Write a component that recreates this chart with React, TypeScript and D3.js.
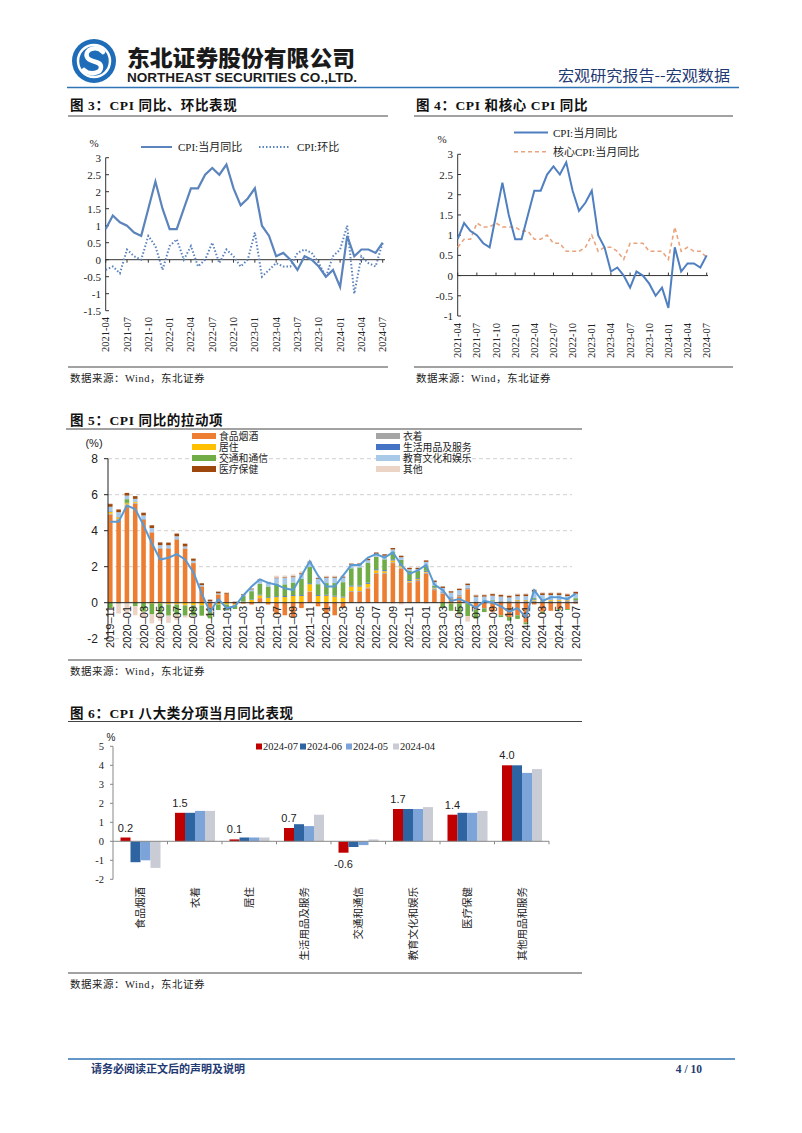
import React from 'react';
import * as d3 from 'd3';

// ---------- helpers for category labels ----------
function monthRange(y: number, m: number, n: number): string[] {
  const out: string[] = [];
  for (let i = 0; i < n; i++) {
    const mm = m - 1 + i;
    const yy = y + Math.floor(mm / 12);
    const mo = (mm % 12) + 1;
    out.push(`${yy}-${mo < 10 ? '0' + mo : mo}`);
  }
  return out;
}

// ---------- data: chart 3 & 4 (2021-04 .. 2024-07) ----------
const cpiMonths = monthRange(2021, 4, 40);
const cpiYoY = [0.9, 1.3, 1.1, 1.0, 0.8, 0.7, 1.5, 2.3, 1.5,
  0.9, 0.9, 1.5, 2.1, 2.1, 2.5, 2.7, 2.5, 2.8, 2.1, 1.6, 1.8,
  2.1, 1.0, 0.7, 0.1, 0.2, 0.0, -0.3, 0.1, 0.0, -0.2, -0.5, -0.3,
  -0.8, 0.7, 0.1, 0.3, 0.3, 0.2, 0.5];
const cpiMoM = [-0.3, -0.2, -0.4, 0.3, 0.1, 0.0, 0.7, 0.4, -0.3,
  0.4, 0.6, 0.0, 0.4, -0.2, 0.0, 0.5, -0.1, 0.3, 0.1, -0.2, 0.0,
  0.8, -0.5, -0.3, -0.1, -0.2, -0.2, 0.2, 0.3, 0.2, -0.1, -0.5, 0.1,
  0.3, 1.0, -1.0, 0.1, -0.1, -0.2, 0.5];
const coreYoY = [0.7, 0.9, 0.9, 1.3, 1.2, 1.2, 1.3, 1.2, 1.2,
  1.2, 1.1, 1.1, 0.9, 0.9, 1.0, 0.8, 0.8, 0.6, 0.6, 0.6, 0.7,
  1.0, 0.6, 0.7, 0.7, 0.6, 0.4, 0.8, 0.8, 0.8, 0.6, 0.6, 0.6,
  0.4, 1.2, 0.6, 0.7, 0.6, 0.6, 0.45];
const ticks3 = [3, 2.5, 2, 1.5, 1, 0.5, 0, -0.5, -1, -1.5];
const ticks4 = [3, 2.5, 2, 1.5, 1, 0.5, 0, -0.5, -1];

// ---------- data: chart 5 (2019-11 .. 2024-07) ----------
const pullMonths = monthRange(2019, 11, 57);
const pullTotal = [4.5, 4.5,
  5.4, 5.2, 4.3, 3.3, 2.4, 2.5, 2.7, 2.4, 1.7, 0.5, -0.5, 0.2,
  -0.3, -0.2, 0.4, 0.9, 1.3, 1.1, 1.0, 0.8, 0.7, 1.5, 2.3, 1.5,
  0.9, 0.9, 1.5, 2.1, 2.1, 2.5, 2.7, 2.5, 2.8, 2.1, 1.6, 1.8,
  2.1, 1.0, 0.7, 0.1, 0.2, 0.0, -0.3, 0.1, 0.0, -0.2, -0.5, -0.3,
  -0.8, 0.7, 0.1, 0.3, 0.3, 0.2, 0.5];
const pullFood = [4.9, 4.6, 5.4, 5.5, 4.6, 3.9, 3.0, 3.0, 3.5, 3.0, 2.2, 0.9, -0.3, 0.45,
  0.5, -0.1, -0.05, -0.1, 0.25, -0.1, -0.65, -0.7, -0.8, -0.3, 0.6, -0.2,
  -0.6, -0.7, -0.3, 0.6, 0.6, 0.8, 1.6, 1.6, 2.2, 1.9, 1.1, 1.2,
  1.6, 0.7, 0.5, 0.2, 0.35, 0.75, -0.35, -0.3, -0.5, -0.7, -0.8, -0.7,
  -1.1, -0.1, -0.5, -0.45, -0.35, -0.35, -0.05];
const pullClothing = [0.05, 0.05, 0.05, 0.05, 0.05, 0.05, 0.05, 0.04, 0.04, 0.03, 0.03, 0.03, 0.02, 0.02,
  0.0, 0.0, 0.0, 0.01, 0.01, 0.01, 0.01, 0.02, 0.02, 0.03, 0.03, 0.03,
  0.04, 0.04, 0.04, 0.05, 0.05, 0.05, 0.05, 0.05, 0.05, 0.05, 0.06, 0.06,
  0.07, 0.08, 0.08, 0.08, 0.08, 0.08, 0.08, 0.09, 0.09, 0.09, 0.09, 0.09,
  0.09, 0.12, 0.1, 0.1, 0.1, 0.1, 0.1];
const pullHousing = [0.1, 0.1, 0.08, 0.05, 0.0, -0.05, -0.05, -0.1, -0.1, -0.15, -0.15, -0.15, -0.15, -0.1,
  -0.1, -0.05, 0.05, 0.15, 0.15, 0.25, 0.3, 0.3, 0.35, 0.35, 0.4, 0.35,
  0.35, 0.3, 0.25, 0.25, 0.25, 0.2, 0.15, 0.1, 0.1, 0.08, 0.05, 0.05,
  0.05, 0.03, 0.0, -0.05, -0.05, -0.05, -0.02, 0.0, 0.0, 0.0, 0.0, 0.05,
  0.05, 0.05, 0.05, 0.05, 0.05, 0.04, 0.02];
const pullHousehold = [0.03, 0.03, 0.02, 0.02, 0.0, 0.0, 0.0, -0.02, -0.02, -0.02, -0.02, -0.02, -0.02, -0.01,
  0.0, 0.01, 0.02, 0.03, 0.04, 0.04, 0.05, 0.05, 0.05, 0.05, 0.05, 0.05,
  0.05, 0.05, 0.05, 0.06, 0.06, 0.06, 0.06, 0.06, 0.06, 0.05, 0.05, 0.05,
  0.05, 0.04, 0.04, 0.03, 0.02, 0.0, -0.02, -0.02, 0.0, 0.0, 0.0, 0.02,
  0.03, 0.04, 0.03, 0.03, 0.03, 0.03, 0.03];
const pullTransport = [-0.3, -0.05, 0.2, -0.2, -0.5, -0.6, -0.6, -0.6, -0.55, -0.55, -0.55, -0.55, -0.4, -0.3,
  -0.3, -0.2, 0.3, 0.45, 0.6, 0.6, 0.7, 0.65, 0.7, 0.9, 0.9, 0.6,
  0.65, 0.7, 0.8, 0.95, 1.0, 1.1, 0.7, 0.6, 0.4, 0.3, 0.5, 0.4,
  0.3, 0.1, -0.3, -0.4, -0.6, -0.7, -0.5, -0.2, 0.05, -0.1, -0.2, -0.2,
  -0.1, 0.05, -0.1, 0.0, -0.05, -0.05, 0.1];
const pullEducation = [0.25, 0.25, 0.2, 0.15, 0.2, 0.2, 0.15, 0.15, 0.15, 0.1, 0.1, 0.05, 0.05, 0.05,
  -0.05, 0.0, 0.05, 0.1, 0.2, 0.2, 0.3, 0.35, 0.3, 0.25, 0.25, 0.3,
  0.3, 0.3, 0.25, 0.2, 0.15, 0.15, 0.15, 0.2, 0.15, 0.15, 0.1, 0.1,
  0.2, 0.2, 0.2, 0.25, 0.25, 0.15, 0.25, 0.25, 0.25, 0.25, 0.2, 0.2,
  0.2, 0.35, 0.25, 0.25, 0.25, 0.2, 0.25];
const pullMedical = [0.15, 0.15, 0.15, 0.15, 0.15, 0.15, 0.15, 0.15, 0.15, 0.15, 0.12, 0.1, 0.1, 0.1,
  0.05, 0.05, 0.05, 0.05, 0.05, 0.04, 0.04, 0.04, 0.05, 0.06, 0.05, 0.05,
  0.06, 0.06, 0.07, 0.07, 0.08, 0.08, 0.08, 0.08, 0.08, 0.08, 0.08, 0.08,
  0.08, 0.08, 0.08, 0.08, 0.08, 0.08, 0.08, 0.08, 0.09, 0.09, 0.1, 0.1,
  0.1, 0.1, 0.1, 0.1, 0.1, 0.1, 0.1];
const pullOther = [0.05, -0.55, -0.6, -0.5, -0.3, -0.5, -0.35, -0.4, -0.3, -0.1, -0.05, 0.0, 0.0, 0.02,
  0.02, 0.02, 0.02, 0.02, 0.03, 0.03, 0.1, 0.1, 0.1, 0.1, 0.05, 0.05,
  0.05, 0.05, 0.05, 0.02, 0.02, 0.0, 0.0, 0.0, -0.05, -0.1, 0.0, 0.0,
  -0.05, 0.0, 0.0, 0.02, -0.1, -0.3, 0.05, 0.05, 0.05, 0.05, 0.05, 0.05,
  0.05, 0.05, 0.05, 0.05, 0.05, 0.05, 0.05];
const pullNames = ['食品烟酒', '衣着', '居住', '生活用品及服务', '交通和通信', '教育文化和娱乐', '医疗保健', '其他'];
const pullColors = ['#ED7D31', '#A5A5A5', '#FFC000', '#4472C4', '#70AD47', '#A9C9E8', '#9E480E', '#EBD3C6'];
const pullSeries = [pullFood, pullClothing, pullHousing, pullHousehold, pullTransport, pullEducation, pullMedical, pullOther];
const ticks5 = [8, 6, 4, 2, 0, -2];

// ---------- data: chart 6 ----------
const catNames = ['食品烟酒', '衣着', '居住', '生活用品及服务', '交通和通信', '教育文化和娱乐', '医疗保健', '其他用品和服务'];
const seriesNames6 = ['2024-07', '2024-06', '2024-05', '2024-04'];
const v202407 = [0.2, 1.5, 0.1, 0.7, -0.6, 1.7, 1.4, 4.0];
const v202406 = [-1.1, 1.5, 0.2, 0.9, -0.3, 1.7, 1.5, 4.0];
const v202405 = [-1.0, 1.6, 0.2, 0.8, -0.2, 1.7, 1.5, 3.6];
const v202404 = [-1.4, 1.6, 0.2, 1.4, 0.1, 1.8, 1.6, 3.8];
const colors6 = ['#C00000', '#2E64A2', '#7DA4D8', '#C9CCD5'];
const ticks6 = [5, 4, 3, 2, 1, 0, -1, -2];

const SERIF = "'Liberation Serif','Times New Roman','Noto Sans CJK SC',serif";
const SANS = "'Liberation Sans',Arial,'Noto Sans CJK SC',sans-serif";
const CJK = "'Noto Sans CJK SC',sans-serif";

function Chart3() {
  const x = d3.scaleLinear().domain([0, cpiMonths.length - 1]).range([105.7, 382.7]);
  const y = d3.scaleLinear().domain([-1.5, 3]).range([310.7, 157.7]);
  const line = d3.line<number>().x((_, i) => x(i)).y(d => y(d));
  const col = '#5B84BC';
  return (
    <g>
      <text x={70} y={110} fontFamily={SERIF} fontSize={13.5} fontWeight={700} fill="#111" letterSpacing={0.6}>图 3：CPI 同比、环比表现</text>
      <line x1={68} x2={388} y1={116} y2={116} stroke="#444" strokeWidth={1} />
      <text x={94} y={147} fontFamily={SERIF} fontSize={11} textAnchor="middle" fill="#222">%</text>
      <line x1={141} x2={172} y1={147} y2={147} stroke={col} strokeWidth={2} />
      <text x={178} y={151} fontFamily={SERIF} fontSize={11} fill="#222">CPI:当月同比</text>
      <line x1={259} x2={290} y1={147} y2={147} stroke={col} strokeWidth={2} strokeDasharray="1.5 2" />
      <text x={297} y={151} fontFamily={SERIF} fontSize={11} fill="#222">CPI:环比</text>
      <line x1={105.7} x2={105.7} y1={157.7} y2={310.7} stroke="#333" />
      {ticks3.map(t => (
        <g key={t}>
          <line x1={105.7} x2={109} y1={y(t)} y2={y(t)} stroke="#333" />
          <text x={101} y={y(t) + 4} textAnchor="end" fontFamily={SERIF} fontSize={11} fill="#222">{t}</text>
        </g>
      ))}
      <line x1={105.7} x2={385} y1={y(0)} y2={y(0)} stroke="#333" />
      {cpiMonths.map((m, i) => i % 3 === 0 ? (
        <g key={m}>
          <line x1={x(i)} x2={x(i)} y1={y(0)} y2={y(0) + 3} stroke="#333" />
          <text transform={`translate(${x(i) + 3.5},317) rotate(-90)`} textAnchor="end" fontFamily={SERIF} fontSize={10.5} fill="#222">{m}</text>
        </g>
      ) : null)}
      <path d={line(cpiMoM) || ''} fill="none" stroke={col} strokeWidth={2} strokeDasharray="1.5 2" />
      <path d={line(cpiYoY) || ''} fill="none" stroke={col} strokeWidth={2.2} />
      <line x1={68} x2={388} y1={367} y2={367} stroke="#444" />
      <text x={70} y={382} fontFamily={SERIF} fontSize={10.5} fill="#222" letterSpacing={0.5}>数据来源：Wind，东北证券</text>
    </g>
  );
}

function Chart4() {
  const x = d3.scaleLinear().domain([0, cpiMonths.length - 1]).range([457.7, 706.7]);
  const y = d3.scaleLinear().domain([-1, 3]).range([316, 154.3]);
  const line = d3.line<number>().x((_, i) => x(i)).y(d => y(d));
  const c1 = '#4F7FC0';
  const c2 = '#E9A47E';
  return (
    <g>
      <text x={416} y={110} fontFamily={SERIF} fontSize={13.5} fontWeight={700} fill="#111" letterSpacing={0.6}>图 4：CPI 和核心 CPI 同比</text>
      <line x1={414} x2={733} y1={116} y2={116} stroke="#444" />
      <text x={442} y={143} fontFamily={SERIF} fontSize={11} textAnchor="middle" fill="#222">%</text>
      <line x1={514} x2={548} y1={132.5} y2={132.5} stroke={c1} strokeWidth={2} />
      <text x={553} y={136.5} fontFamily={SERIF} fontSize={11} fill="#222">CPI:当月同比</text>
      <line x1={514} x2={548} y1={151.7} y2={151.7} stroke={c2} strokeWidth={1.6} strokeDasharray="4 3" />
      <text x={553} y={155.7} fontFamily={SERIF} fontSize={11} fill="#222">核心CPI:当月同比</text>
      <line x1={457.7} x2={457.7} y1={154.3} y2={316} stroke="#333" />
      {ticks4.map(t => (
        <g key={t}>
          <line x1={457.7} x2={461} y1={y(t)} y2={y(t)} stroke="#333" />
          <text x={453} y={y(t) + 4} textAnchor="end" fontFamily={SERIF} fontSize={11} fill="#222">{t}</text>
        </g>
      ))}
      <line x1={457.7} x2={708} y1={y(0)} y2={y(0)} stroke="#333" />
      {cpiMonths.map((m, i) => i % 3 === 0 ? (
        <g key={m}>
          <line x1={x(i)} x2={x(i)} y1={y(0)} y2={y(0) - 3} stroke="#333" />
          <text transform={`translate(${x(i) + 3.5},323) rotate(-90)`} textAnchor="end" fontFamily={SERIF} fontSize={10.5} fill="#222">{m}</text>
        </g>
      ) : null)}
      <path d={line(coreYoY) || ''} fill="none" stroke={c2} strokeWidth={1.6} strokeDasharray="4 3" />
      <path d={line(cpiYoY) || ''} fill="none" stroke={c1} strokeWidth={2} />
      <line x1={414} x2={733} y1={367} y2={367} stroke="#444" />
      <text x={416} y={382} fontFamily={SERIF} fontSize={10.5} fill="#222" letterSpacing={0.5}>数据来源：Wind，东北证券</text>
    </g>
  );
}

function Chart5() {
  const x = d3.scaleBand<string>().domain(pullMonths).range([108, 578]).paddingInner(0.45);
  const y = d3.scaleLinear().domain([-2, 8]).range([638.7, 458.7]);
  const rows = pullMonths.map((m, i) => {
    const r: any = { m };
    pullNames.forEach((n, k) => { r[n] = pullSeries[k][i]; });
    return r;
  });
  const stacked = d3.stack<any>().keys(pullNames).offset(d3.stackOffsetDiverging)(rows);
  const cx = (i: number) => (x(pullMonths[i]) as number) + x.bandwidth() / 2;
  const line = d3.line<number>().x((_, i) => cx(i)).y(d => y(d));
  const legendPos = [[192, 436], [192, 447], [192, 458], [192, 469], [376, 436], [376, 447], [376, 458], [376, 469]];
  const legendOrder = [0, 2, 4, 6, 1, 3, 5, 7];
  return (
    <g>
      <text x={70} y={425} fontFamily={SERIF} fontSize={13.5} fontWeight={700} fill="#111" letterSpacing={0.6}>图 5：CPI 同比的拉动项</text>
      <line x1={66} x2={582} y1={429} y2={429} stroke="#444" />
      {ticks5.filter(t => t !== 0).map(t => (
        <line key={'g' + t} x1={108} x2={572} y1={y(t)} y2={y(t)} stroke="#D0D0D0" strokeDasharray="4 3" />
      ))}
      {legendOrder.map((k, j) => (
        <g key={pullNames[k]}>
          <rect x={legendPos[j][0]} y={legendPos[j][1] - 3} width={24} height={6} fill={pullColors[k]} />
          <text x={legendPos[j][0] + 27} y={legendPos[j][1] + 3.5} fontFamily={CJK} fontSize={9.8} fill="#222">{pullNames[k]}</text>
        </g>
      ))}
      <text x={94} y={447} fontFamily={SANS} fontSize={11} textAnchor="middle" fill="#222">(%)</text>
      {stacked.map((s, k) => (
        <g key={s.key} fill={pullColors[k]}>
          {s.map((d, i) => {
            const y0 = y(d[0]);
            const y1 = y(d[1]);
            return <rect key={i} x={x(pullMonths[i])} y={Math.min(y0, y1)} width={x.bandwidth()} height={Math.abs(y0 - y1)} />;
          })}
        </g>
      ))}
      <line x1={108} x2={108} y1={458.7} y2={638.7} stroke="#222" />
      {ticks5.map(t => (
        <g key={t}>
          <line x1={104} x2={108} y1={y(t)} y2={y(t)} stroke="#222" />
          <text x={98} y={y(t) + 4.5} textAnchor="end" fontFamily={SANS} fontSize={12} fill="#222">{t}</text>
        </g>
      ))}
      <line x1={108} x2={578} y1={y(0)} y2={y(0)} stroke="#222" />
      {pullMonths.map((m, i) => i % 2 === 0 ? (
        <text key={m} transform={`translate(${cx(i) + 4},606) rotate(-90)`} textAnchor="end" fontFamily={SANS} fontSize={11} fill="#222">{m.replace('-', '–')}</text>
      ) : null)}
      <path d={line(pullTotal) || ''} fill="none" stroke="#5B9BD5" strokeWidth={2} />
      <line x1={68} x2={582} y1={660} y2={660} stroke="#444" />
      <text x={70} y={675} fontFamily={SERIF} fontSize={10.5} fill="#222" letterSpacing={0.5}>数据来源：Wind，东北证券</text>
    </g>
  );
}

function Chart6() {
  const x0 = d3.scaleBand<string>().domain(catNames).range([113, 549]);
  const x1 = d3.scaleBand<string>().domain(seriesNames6).range([7.5, 47.5]);
  const y = d3.scaleLinear().domain([-2, 5]).range([879.3, 746.3]);
  const vals = [v202407, v202406, v202405, v202404];
  const legendX = [256, 300, 346, 393];
  return (
    <g>
      <text x={70} y={718} fontFamily={SERIF} fontSize={13.5} fontWeight={700} fill="#111" letterSpacing={0.6}>图 6：CPI 八大类分项当月同比表现</text>
      <line x1={68} x2={582} y1={721.5} y2={721.5} stroke="#444" />
      <text x={111} y={741} fontFamily={SANS} fontSize={10} textAnchor="middle" fill="#222">%</text>
      {seriesNames6.map((s, k) => (
        <g key={s}>
          <rect x={legendX[k]} y={743.5} width={6} height={6} fill={colors6[k]} />
          <text x={legendX[k] + 7} y={750} fontFamily={SERIF} fontSize={10.5} fill="#222">{s}</text>
        </g>
      ))}
      {vals.map((arr, k) => (
        <g key={k} fill={colors6[k]}>
          {arr.map((v, i) => (
            <rect key={i} x={(x0(catNames[i]) as number) + (x1(seriesNames6[k]) as number)} y={Math.min(y(v), y(0))}
              width={x1.bandwidth()} height={Math.abs(y(v) - y(0))} />
          ))}
        </g>
      ))}
      <line x1={113} x2={113} y1={746.3} y2={879.3} stroke="#888" />
      {ticks6.map(t => (
        <g key={t}>
          <line x1={110} x2={113} y1={y(t)} y2={y(t)} stroke="#888" />
          <text x={104} y={y(t) + 3.5} textAnchor="end" fontFamily={SERIF} fontSize={10.5} fill="#222">{t}</text>
        </g>
      ))}
      <line x1={113} x2={549} y1={y(0)} y2={y(0)} stroke="#888" />
      {catNames.map((c, i) => (
        <line key={'t' + c} x1={(x0(c) as number) + x0.bandwidth()} x2={(x0(c) as number) + x0.bandwidth()} y1={y(0)} y2={y(0) + 3} stroke="#888" />
      ))}
      {v202407.map((v, i) => {
        const bx = (x0(catNames[i]) as number) + (x1(seriesNames6[0]) as number) + x1.bandwidth() / 2;
        const ty = v >= 0 ? y(v) - 6 : y(v) + 15;
        return <text key={'l' + i} x={bx} y={ty} textAnchor="middle" fontFamily={SANS} fontSize={11} fill="#222">{v.toFixed(1)}</text>;
      })}
      {catNames.map(c => (
        <text key={c} transform={`translate(${(x0(c) as number) + x0.bandwidth() / 2 + 4},887) rotate(-90)`} textAnchor="end"
          fontFamily={CJK} fontSize={10.5} fill="#222">{c}</text>
      ))}
      <line x1={68} x2={582} y1={973} y2={973} stroke="#444" />
      <text x={70} y={988} fontFamily={SERIF} fontSize={10.5} fill="#222" letterSpacing={0.5}>数据来源：Wind，东北证券</text>
    </g>
  );
}

function Header() {
  return (
    <g>
      <circle cx={94} cy={61} r={22} fill="#1F6DB8" />
      <circle cx={94} cy={61} r={16} fill="none" stroke="#fff" strokeWidth={2.5} />
      <path d="M103 52 C 97 45, 84 49, 87 57 C 89 63, 101 60, 101 67 C 101 74, 89 75, 84 70" fill="none" stroke="#fff" strokeWidth={4.5} strokeLinecap="round" />
      <text x={127} y={66} fontFamily={CJK} fontSize={22} fontWeight={900} fill="#1a1a1a" textLength={228} lengthAdjust="spacingAndGlyphs">东北证券股份有限公司</text>
      <text x={127} y={82} fontFamily={SANS} fontSize={12.5} fontWeight={700} fill="#1a1a1a" textLength={230} lengthAdjust="spacingAndGlyphs">NORTHEAST SECURITIES CO.,LTD.</text>
      <text x={730} y={81} textAnchor="end" fontFamily={CJK} fontSize={15} fill="#1F3A72" textLength={172} lengthAdjust="spacingAndGlyphs">宏观研究报告--宏观数据</text>
      <line x1={67} x2={739} y1={87.5} y2={87.5} stroke="#2E75B6" strokeWidth={1.5} />
    </g>
  );
}

function Footer() {
  return (
    <g>
      <line x1={68} x2={735} y1={1059} y2={1059} stroke="#2E75B6" strokeWidth={1.5} />
      <text x={91} y={1073} fontFamily={CJK} fontSize={11} fontWeight={700} fill="#1F3A72">请务必阅读正文后的声明及说明</text>
      <text x={702} y={1073} textAnchor="end" fontFamily={SERIF} fontSize={11.5} fontWeight={700} fill="#1F3A72">4 / 10</text>
    </g>
  );
}

export default function App() {
  return (
    <svg width={802} height={1133} viewBox="0 0 802 1133" style={{ position: 'absolute', left: 0, top: 0, background: '#fff' }}>
      <rect width={802} height={1133} fill="#fff" />
      <Header />
      <Chart3 />
      <Chart4 />
      <Chart5 />
      <Chart6 />
      <Footer />
    </svg>
  );
}
